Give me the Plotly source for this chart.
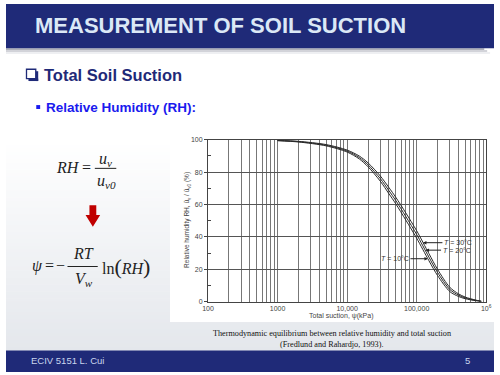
import plotly.graph_objects as go

# ---------------- data ----------------
suction_kpa = [1000, 2000, 5000, 10000, 15000, 20000, 30000, 40000, 50000,
               70000, 100000, 150000, 200000, 300000, 400000, 500000, 700000, 850000]
rh_10c = [99.4, 98.6, 96.2, 92.4, 88.1, 83.3, 74.4, 66.6, 60.5,
          50.3, 39.2, 25.3, 16.1, 6.2, 3.2, 1.8, 0.6, 0.15]
rh_20c = [99.5, 98.8, 96.6, 93.0, 89.0, 84.5, 76.0, 68.5, 62.5,
          52.5, 41.5, 27.5, 18.0, 7.5, 4.0, 2.3, 0.8, 0.2]
rh_30c = [99.6, 99.0, 97.0, 93.6, 89.9, 85.7, 77.6, 70.4, 64.5,
          54.7, 43.8, 29.7, 19.9, 8.8, 4.8, 2.8, 1.0, 0.25]

series_names = ["T = 10°C", "T = 20°C", "T = 30°C"]

x_tick_vals = [m * 10 ** e for e in range(2, 6) for m in range(1, 10)] + [1000000]
decade_labels = {100: "100", 1000: "1000", 10000: "10,000",
                 100000: "100,000", 1000000: "10<sup>6</sup>"}
x_tick_text = [decade_labels.get(v, "") for v in x_tick_vals]
y_tick_vals = [0, 20, 40, 60, 80, 100]

# ---------------- helpers ----------------
W, H = 500, 375
NAVY = "#1f2a78"


def px(x):
    return x / W


def py(y):
    return 1 - y / H


shapes = []
annotations = []


def rect(x0, y0, x1, y1, color, layer="below", line=None):
    shapes.append(dict(type="rect", xref="paper", yref="paper",
                       x0=px(x0), x1=px(x1), y0=py(y1), y1=py(y0),
                       fillcolor=color, line=line or dict(width=0), layer=layer))


def hline(x0, x1, y, color="#000", width=1):
    shapes.append(dict(type="line", xref="paper", yref="paper",
                       x0=px(x0), x1=px(x1), y0=py(y), y1=py(y),
                       line=dict(color=color, width=width)))


def txt(x, y, text, size, color="#000", family="Liberation Sans",
        xanchor="center", textangle=0):
    annotations.append(dict(xref="paper", yref="paper", x=px(x), y=py(y),
                            text=text, showarrow=False, xanchor=xanchor,
                            align=xanchor, borderpad=0,
                            yanchor="middle", textangle=textangle,
                            font=dict(size=size, color=color, family=family)))


# background gradient (white at top, light grey toward bottom)
y_start, y_end = 140, 353
n = 60
c0 = (255, 255, 255)
c1 = (228, 231, 236)
for i in range(n):
    t = (i + 0.5) / n
    c = tuple(round(c0[k] + (c1[k] - c0[k]) * t) for k in range(3))
    ya = y_start + (y_end - y_start) * i / n
    yb = y_start + (y_end - y_start) * (i + 1) / n + 0.6
    rect(0, ya, W, yb, "rgb(%d,%d,%d)" % c)

# banner shadow
rect(0, 45, 490, 47, "#aeafb8")
rect(0, 47, 493, 49, "#d2d3d9")
rect(0, 49, 496, 51, "#eeeff2")
# top banner and footer
rect(0, 0, W, 45, NAVY)
rect(0, 353, W, H, NAVY)
# white chart box
rect(168, 130, W, 324, "#ffffff")

# checkbox bullet (drop-shadowed square)
rect(21, 66.5, 30.5, 76, "rgba(0,0,0,0)", layer="above",
     line=dict(color=NAVY, width=1.3))
rect(23, 76, 33, 78.5, NAVY, layer="above")
rect(30.5, 68.5, 33, 78.5, NAVY, layer="above")
# small square bullet
rect(31, 103, 35, 107, "#1a1aee", layer="above")

# red down arrow
shapes.append(dict(type="path", xref="paper", yref="paper",
                   path="M %f %f L %f %f L %f %f L %f %f L %f %f L %f %f L %f %f Z" % (
                       px(85.5), py(205), px(92.5), py(205), px(92.5), py(215),
                       px(96.5), py(215), px(89), py(227), px(81.5), py(215),
                       px(85.5), py(215)),
                   fillcolor="#c00000", line=dict(width=0), layer="above"))

# ---------------- slide texts ----------------
txt(29, 22, "<b>MEASUREMENT OF SOIL SUCTION</b>", 22, "#dbe8f6", xanchor="left")
txt(38, 72, "<b>Total Soil Suction</b>", 16.5, NAVY, xanchor="left")
txt(40, 105, "<b>Relative Humidity (RH):</b>", 13.5, "#1a1aee", xanchor="left")

SERIF = "Liberation Serif"
INK = "#222"
# RH = u_v / u_v0
txt(50, 167, "<i>RH</i>", 16, INK, SERIF, xanchor="left")
txt(82, 166.5, "=", 16, INK, SERIF)
txt(102, 158, "<i>u<sub>v</sub></i>", 16, INK, SERIF)
hline(91, 113, 167.5, INK, 1)
txt(103, 181, "<i>u<sub>v0</sub></i>", 16, INK, SERIF)
# psi = -RT/Vw ln(RH)
txt(32, 267, "<i>ψ</i>", 16, INK, SERIF)
txt(45, 266.5, "=", 16, INK, SERIF)
txt(55.5, 266.5, "−", 16, INK, SERIF)
txt(79, 254, "<i>RT</i>", 16, INK, SERIF)
hline(63, 94, 267.5, INK, 1)
txt(80, 281, "<i>V<sub>w</sub></i>", 16, INK, SERIF)
txt(97, 267, "ln<span style='font-size:22px'>(</span><i>RH</i><span style='font-size:22px'>)</span>",
    16, INK, SERIF, xanchor="left")

# caption
txt(334, 336, "Thermodynamic equilibrium between relative humidity and total suction",
    8.2, "#111", SERIF)
txt(334, 346.5, "(Fredlund and Rahardjo, 1993).", 8.2, "#111", SERIF)

# footer
txt(25, 363.5, "ECIV 5151 L. Cui", 9.5, "#c9d5ee", xanchor="left")
txt(473, 363.5, "5", 9.5, "#c9d5ee", xanchor="center")

# axis titles of chart
txt(186, 220.5, "Relative humidity RH, ū<sub>v</sub> / ū<sub>v0</sub> (%)", 6.5, "#444",
    textangle=-90)
txt(344, 318, "Total suction, ψ(kPa)", 7, "#444")

# curve label arrows
label_specs = [
    ("<i>T</i> = 30°C", 5.09, 36.4, 35),
    ("<i>T</i> = 20°C", 5.128, 31.8, 31),
    ("<i>T</i> = 10°C", 5.162, 26.5, -33),
]
for text, xl, yl, ax in label_specs:
    annotations.append(dict(xref="x", yref="y", x=xl, y=yl, text=text,
                            showarrow=True, ax=ax, ay=0, arrowhead=2,
                            arrowsize=0.7, arrowwidth=1, arrowcolor="#222",
                            standoff=0, startstandoff=0,
                            font=dict(size=7, color="#333",
                                      family="Liberation Sans")))

# ---------------- traces ----------------
fig = go.Figure()
for name, rh in zip(series_names, [rh_10c, rh_20c, rh_30c]):
    fig.add_trace(go.Scatter(x=suction_kpa, y=rh, mode="lines", name=name,
                             line=dict(color="#2a2a2a", width=1,
                                       shape="spline", smoothing=0.8),
                             showlegend=False, hoverinfo="skip"))

fig.update_layout(
    width=W, height=H, autosize=False,
    margin=dict(l=0, r=0, t=0, b=0),
    paper_bgcolor="#ffffff", plot_bgcolor="#ffffff",
    shapes=shapes, annotations=annotations,
    showlegend=False,
    xaxis=dict(type="log", range=[2, 6], domain=[px(207), px(492)],
               tickmode="array", tickvals=x_tick_vals, ticktext=x_tick_text,
               showgrid=True, gridcolor="#777", gridwidth=0.8,
               showline=True, linecolor="#444", linewidth=1, mirror=True,
               ticks="", tickfont=dict(size=7, color="#444", family="Liberation Sans"),
               zeroline=False),
    yaxis=dict(range=[0, 100], domain=[py(303.3), py(138.3)],
               tickmode="array", tickvals=y_tick_vals,
               showgrid=True, gridcolor="#555", gridwidth=0.8,
               showline=True, linecolor="#444", linewidth=1, mirror=True,
               ticks="outside", ticklen=3, tickcolor="#444",
               minor=dict(tickmode="array", tickvals=[10, 30, 50, 70, 90],
                          ticks="inside", ticklen=3, tickcolor="#444", showgrid=False),
               tickfont=dict(size=7, color="#444", family="Liberation Sans"),
               zeroline=False),
)

fig.write_html(
    "out.html",
    config={"displayModeBar": False},
    post_script="document.body.style.margin='0';document.body.style.padding='0';"
                "document.documentElement.style.overflow='hidden';",
)
